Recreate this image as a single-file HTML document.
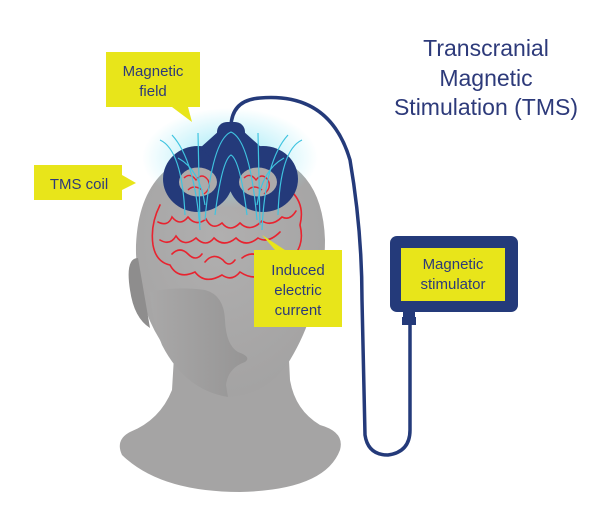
<!DOCTYPE html>
<html><head><style>
body{margin:0;background:#fff}
svg{display:block}
text{font-family:"Liberation Sans",sans-serif}
</style></head><body>
<svg width="600" height="509" viewBox="0 0 600 509" xmlns="http://www.w3.org/2000/svg">
<defs>
<radialGradient id="g" cx="0.45" cy="0.35" r="0.75"><stop offset="0" stop-color="#b0afaf"/><stop offset="1" stop-color="#a2a1a1"/></radialGradient>
<linearGradient id="sh" x1="0" y1="0" x2="1" y2="0"><stop offset="0" stop-color="#a9a8a8"/><stop offset="1" stop-color="#969595"/></linearGradient>
<radialGradient id="glow" cx="0.5" cy="0.5" r="0.5"><stop offset="0" stop-color="#8fe6f5" stop-opacity="0.9"/><stop offset="1" stop-color="#8fe6f5" stop-opacity="0"/></radialGradient>
</defs>
<path d="M175 340 L172 390 Q160 420 130 432 Q115 440 122 455 Q160 492 240 492 Q325 490 340 450 Q345 432 320 425 Q295 410 290 380 L288 340 Z" fill="#a5a4a4"/>
<path d="M232 150 Q140 150 136 245 Q135 300 160 340 Q185 390 228 397 Q268 395 290 360 Q305 335 312 310 Q325 280 325 240 Q322 150 232 150 Z" fill="url(#g)"/>
<path d="M150 292 Q175 286 205 290 Q224 295 225 320 Q226 345 238 352 Q252 357 245 362 Q228 368 226 385 L228 397 Q185 390 162 345 Q152 320 150 292 Z" fill="url(#sh)"/>
<path d="M138 258 Q125 258 130 290 Q134 318 150 328 Z" fill="#8e8d8d"/>
<g fill="none" stroke="#e8232f" stroke-width="1.6" stroke-linecap="round">
<path d="M160 205 Q150 225 153 245 Q156 262 170 265 Q178 280 195 272 Q205 285 222 275 Q232 282 240 272 Q255 282 268 272 Q285 275 292 258 Q305 245 300 225 Q305 205 292 192"/>
<path d="M158 222 q10 5 14 -5 q8 10 16 0 q8 10 18 2 q6 12 16 4 q8 10 18 0 q10 10 22 -2 q10 6 20 -4 q8 4 14 -6"/>
<path d="M160 240 q10 6 16 -4 q8 12 20 2 q10 10 18 0 q10 10 22 0 q10 10 22 0 q10 6 22 -6"/>
<path d="M172 254 q8 -8 16 0 q8 8 14 0 M205 262 q8 -10 18 -2 q6 8 12 0 M242 258 q10 -8 20 0 q8 6 14 -4"/>
</g>
<ellipse cx="230" cy="158" rx="88" ry="50" fill="url(#glow)"/>
<g fill="#243a7a">
<ellipse cx="198" cy="179" rx="35" ry="33"/>
<ellipse cx="263" cy="179" rx="35" ry="33"/>
<path d="M200 148 L220 130 H242 L262 148 L231 175 Z"/>
<rect x="217" y="122" width="28" height="22" rx="10"/>
</g>
<ellipse cx="198" cy="182" rx="19" ry="14.5" fill="#acabab"/>
<ellipse cx="258" cy="182" rx="19" ry="14.5" fill="#acabab"/>
<g fill="none" stroke="#e8232f" stroke-width="1.4">
<path d="M184 178 q6 -6 12 2 q6 -8 12 0 q4 8 -4 14 M188 190 q6 -6 14 0 M244 178 q6 -6 12 2 q6 -8 12 0 q4 8 -4 14 M248 190 q6 -6 14 0"/>
</g>
<g fill="none" stroke="#3fc4e0" stroke-width="1.2">
<path d="M172 135 Q195 160 200 230"/><path d="M198 133 L200 225"/><path d="M288 135 Q265 160 262 230"/><path d="M258 133 L260 225"/>
<path d="M160 140 Q182 150 185 215"/><path d="M302 140 Q280 150 278 215"/>
<path d="M205 220 Q212 140 231 132 Q250 140 257 220"/>
<path d="M215 215 Q222 160 231 155 Q240 160 247 215"/>
<path d="M178 158 Q200 170 205 205"/><path d="M284 158 Q262 170 257 205"/>
</g>
<path d="M231 126 Q232 100 260 98 Q330 92 350 160 Q362 230 362 300 L365 435 Q368 455 388 455 Q410 452 410 430 L410 322" fill="none" stroke="#243a7a" stroke-width="3.5"/>
<rect x="390" y="236" width="128" height="76" rx="7" fill="#243a7a"/>
<rect x="402" y="317" width="14" height="8" fill="#243a7a"/><rect x="403" y="311" width="12" height="10" fill="#243a7a"/>
<rect x="401" y="248" width="104" height="53" fill="#e8e51a"/>
<text x="453" y="269" font-size="15" fill="#2d3a7a" text-anchor="middle">Magnetic</text>
<text x="453" y="289" font-size="15" fill="#2d3a7a" text-anchor="middle">stimulator</text>
<path d="M106 52 H200 V107 H188 L192 122 L172 107 H106 Z" fill="#e8e51a"/>
<text x="153" y="76" font-size="15" fill="#2d3a7a" text-anchor="middle">Magnetic</text>
<text x="153" y="96" font-size="15" fill="#2d3a7a" text-anchor="middle">field</text>
<path d="M34 165 H122 V175 L136 183 L122 190 V200 H34 Z" fill="#e8e51a"/>
<text x="79" y="189" font-size="15" fill="#2d3a7a" text-anchor="middle">TMS coil</text>
<path d="M254 250 H275 L262 235 L285 250 H342 V327 H254 Z" fill="#e8e51a"/>
<text x="298" y="275" font-size="15" fill="#2d3a7a" text-anchor="middle">Induced</text>
<text x="298" y="295" font-size="15" fill="#2d3a7a" text-anchor="middle">electric</text>
<text x="298" y="315" font-size="15" fill="#2d3a7a" text-anchor="middle">current</text>
<g font-size="23" fill="#2d3a7a" text-anchor="middle">
<text x="486" y="56">Transcranial</text>
<text x="486" y="86">Magnetic</text>
<text x="486" y="115">Stimulation (TMS)</text>
</g>
</svg>
</body></html>
